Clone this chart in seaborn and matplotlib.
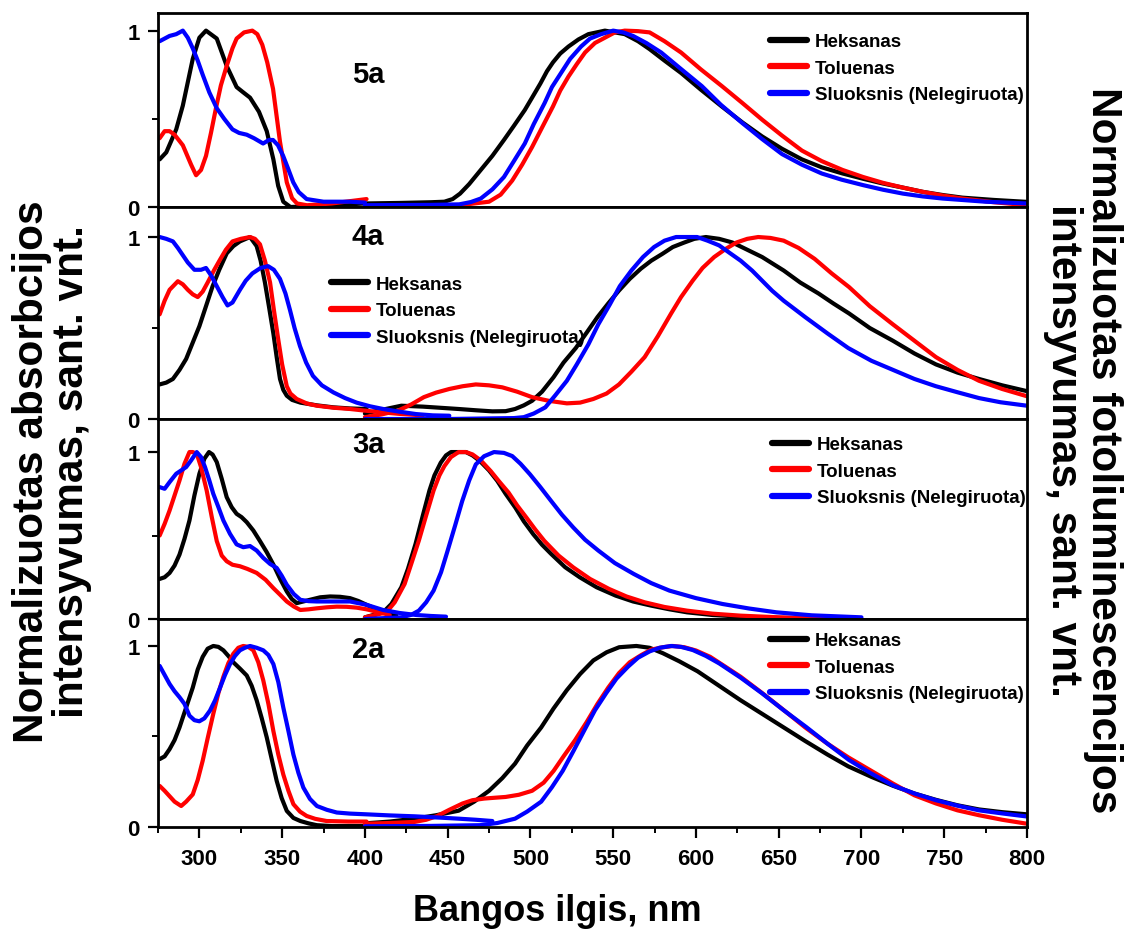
import numpy as np
import pandas as pd
import matplotlib.pyplot as plt
import seaborn as sns
from matplotlib.lines import Line2D
from matplotlib.ticker import MultipleLocator, FixedLocator

# (wavelength nm, normalized intensity)
# ---- 5a ----
abs_5a_hex = [(276, 0.27), (280, 0.31), (286, 0.44), (290, 0.575), (296, 0.84), (300, 0.96), (304, 1.0),
              (310.5, 0.955), (316.5, 0.80), (322.5, 0.68), (326.5, 0.65), (330.6, 0.62), (336, 0.54),
              (340.7, 0.43), (344.7, 0.27), (347.6, 0.12), (350.7, 0.03), (355, 0.0), (370, 0.005),
              (390, 0.015), (400, 0.02)]
pl_5a_hex = [(400, 0.02), (421, 0.023), (440, 0.027), (448, 0.03), (453, 0.045), (457.5, 0.076), (463, 0.13),
             (470, 0.21), (477, 0.29), (484, 0.38), (490, 0.46), (496.6, 0.55), (501, 0.62), (506, 0.70),
             (510, 0.77), (513.6, 0.82), (518, 0.87), (523, 0.91), (529, 0.95), (535, 0.98), (545, 1.0),
             (557, 0.98), (565, 0.94), (572, 0.895), (581, 0.83), (591, 0.76), (603, 0.665), (615.6, 0.57),
             (628, 0.48), (640, 0.40), (652, 0.33), (664, 0.27), (676, 0.225), (688.6, 0.19), (701, 0.16),
             (713, 0.133), (725, 0.11), (737, 0.086), (749, 0.068), (761, 0.053), (780, 0.04), (800, 0.029)]
abs_5a_tol = [(276, 0.39), (279, 0.43), (282, 0.43), (285, 0.41), (290, 0.35), (295, 0.24), (298, 0.18),
              (301, 0.21), (304, 0.29), (307, 0.42), (310, 0.56), (313, 0.69), (316.5, 0.80), (320, 0.90),
              (322.5, 0.955), (327, 0.99), (332, 1.0), (335, 0.98), (338, 0.92), (341, 0.82), (344.5, 0.67),
              (348.7, 0.37), (352.8, 0.14), (356, 0.05), (359, 0.02), (365, 0.01), (380, 0.02), (401, 0.045)]
pl_5a_tol = [(400, 0.0), (421, 0.0), (457, 0.01), (475, 0.03), (482, 0.07), (489, 0.15), (495, 0.24),
             (501, 0.34), (507, 0.45), (513.6, 0.57), (518, 0.66), (523, 0.74), (528, 0.81), (533, 0.876),
             (539, 0.93), (545, 0.96), (551, 0.99), (557, 1.0), (565, 0.997), (572, 0.99), (581, 0.94),
             (591, 0.876), (603, 0.78), (615.6, 0.686), (628, 0.59), (640, 0.495), (652, 0.405), (664, 0.32),
             (676, 0.26), (688.6, 0.21), (701, 0.17), (713, 0.137), (725, 0.11), (737, 0.086), (749, 0.065),
             (761, 0.048), (780, 0.027), (800, 0.01)]
abs_5a_film = [(276, 0.94), (282, 0.97), (286, 0.98), (290, 1.0), (293, 0.96), (296, 0.9), (299, 0.83),
               (302, 0.75), (306, 0.65), (310.5, 0.56), (315, 0.5), (320, 0.44), (324, 0.42), (328.6, 0.41),
               (333, 0.39), (338.5, 0.36), (342, 0.38), (344.5, 0.38), (347.5, 0.35), (350.6, 0.29),
               (353.5, 0.22), (356.7, 0.14), (360, 0.085), (364.8, 0.045), (375, 0.03), (391, 0.03), (400, 0.025)]
pl_5a_film = [(400, 0.01), (440, 0.012), (457, 0.015), (464, 0.028), (470, 0.048), (477, 0.1), (484, 0.17),
              (490, 0.26), (496.6, 0.36), (502, 0.47), (508.6, 0.59), (513, 0.68), (518.5, 0.76), (524, 0.84),
              (530.6, 0.91), (536, 0.955), (542.7, 0.98), (550, 1.0), (556, 0.99), (562, 0.97), (570, 0.93),
              (579, 0.876), (590, 0.79), (603.5, 0.686), (615, 0.58), (628, 0.476), (640, 0.385), (652, 0.30),
              (664, 0.24), (676, 0.19), (688, 0.155), (701, 0.124), (713, 0.098), (725, 0.076), (737, 0.06),
              (749, 0.048), (775, 0.03), (800, 0.02)]

# ---- 4a ----
abs_4a_hex = [(276, 0.19), (280, 0.2), (284, 0.22), (288, 0.27), (292, 0.33), (296, 0.42), (300, 0.51),
              (304, 0.62), (308, 0.73), (312, 0.82), (316.5, 0.91), (320.5, 0.95), (324.5, 0.976), (330.6, 1.0),
              (334.6, 0.95), (337, 0.87), (339.6, 0.75), (342, 0.62), (344.7, 0.47), (346.7, 0.34),
              (348.7, 0.22), (350.7, 0.16), (352.8, 0.128), (356, 0.105), (361, 0.09), (371, 0.075),
              (381, 0.064), (391, 0.058), (401, 0.055)]
pl_4a_hex = [(400, 0.03), (410, 0.05), (422, 0.073), (435, 0.068), (445, 0.062), (456.6, 0.055), (467, 0.048),
             (477, 0.042), (485, 0.043), (490.7, 0.055), (496, 0.075), (501, 0.10), (507, 0.15), (514, 0.23),
             (520, 0.31), (527.4, 0.39), (534, 0.475), (540.5, 0.56), (547, 0.635), (553.5, 0.706), (560, 0.77),
             (566.7, 0.826), (573, 0.87), (579.8, 0.908), (586, 0.945), (593, 0.97), (599, 0.99), (606, 1.0),
             (614, 0.99), (622, 0.97), (631, 0.93), (640, 0.89), (653, 0.816), (663, 0.75), (674, 0.69),
             (683, 0.635), (692.5, 0.58), (705, 0.50), (719, 0.43), (732, 0.36), (745, 0.30), (758, 0.255),
             (771, 0.22), (785, 0.185), (800, 0.153)]
abs_4a_tol = [(276, 0.575), (279, 0.65), (282, 0.71), (287, 0.757), (290, 0.74), (293, 0.71), (296, 0.685),
              (299, 0.67), (302, 0.70), (305, 0.75), (309, 0.82), (312.5, 0.876), (316, 0.93), (320, 0.976),
              (325, 0.99), (330.6, 1.0), (333.6, 0.99), (336.6, 0.96), (339.6, 0.87), (342.7, 0.75), (345, 0.6),
              (347.6, 0.44), (350, 0.3), (352.8, 0.18), (355, 0.14), (358.8, 0.11), (365, 0.085), (371, 0.073),
              (381, 0.062), (391, 0.055), (401, 0.045), (411, 0.036), (421, 0.028), (435, 0.02)]
pl_4a_tol = [(400, 0.01), (410, 0.025), (420, 0.046), (428, 0.08), (435.6, 0.12), (443, 0.145), (451, 0.165),
             (459, 0.18), (467, 0.19), (475, 0.185), (483, 0.174), (492, 0.15), (501, 0.12), (511, 0.1),
             (522, 0.086), (530, 0.09), (538, 0.11), (546, 0.14), (553.5, 0.19), (561, 0.26), (569, 0.34),
             (577, 0.455), (585, 0.58), (591, 0.67), (598, 0.76), (604, 0.83), (611, 0.89), (618, 0.935),
             (624.5, 0.97), (631, 0.99), (637.6, 1.0), (645, 0.995), (653, 0.98), (662, 0.94), (671.7, 0.88),
             (682, 0.80), (692.5, 0.725), (705, 0.62), (719, 0.52), (732, 0.43), (745, 0.34), (758, 0.27),
             (771, 0.21), (785, 0.165), (800, 0.125)]
abs_4a_film = [(276, 1.0), (280, 0.99), (284, 0.976), (287, 0.94), (290, 0.90), (293, 0.86), (297, 0.82),
               (301, 0.82), (304, 0.83), (307, 0.79), (310.5, 0.73), (314, 0.67), (317, 0.624), (320, 0.64),
               (324.5, 0.71), (328, 0.76), (332, 0.80), (337, 0.83), (341.5, 0.84), (345, 0.82), (348.7, 0.77),
               (352, 0.69), (354.7, 0.60), (357.5, 0.50), (360.8, 0.40), (364.5, 0.31), (368.6, 0.237),
               (374, 0.185), (381, 0.146), (388, 0.115), (395, 0.09), (403, 0.07), (411, 0.055), (421, 0.04),
               (431, 0.027), (441, 0.02), (451, 0.018)]
pl_4a_film = [(400, 0.0), (450, 0.0), (490, 0.005), (496, 0.01), (502, 0.03), (509, 0.064), (515, 0.13),
              (522, 0.21), (528, 0.3), (535, 0.41), (541, 0.52), (548, 0.63), (554, 0.73), (561, 0.816),
              (568, 0.89), (574.7, 0.945), (581, 0.98), (588, 1.0), (594, 1.0), (600.7, 1.0), (607, 0.98),
              (614, 0.954), (620, 0.915), (627, 0.87), (634, 0.815), (640, 0.76), (646, 0.705), (653, 0.65),
              (666, 0.56), (679.5, 0.47), (692, 0.39), (706, 0.32), (719, 0.27), (732, 0.22), (745, 0.18),
              (758, 0.147), (771, 0.115), (784, 0.092), (800, 0.073)]

# ---- 3a ----
abs_3a_hex = [(276, 0.24), (279, 0.25), (282, 0.276), (285, 0.32), (288, 0.386), (291, 0.48), (294, 0.59),
              (297, 0.74), (300, 0.87), (303, 0.96), (305.8, 1.0), (308, 0.985), (310.5, 0.94), (313.5, 0.84),
              (316.5, 0.73), (319.5, 0.67), (322.5, 0.63), (325.5, 0.61), (328.6, 0.58), (332.6, 0.53),
              (336.6, 0.467), (340.7, 0.40), (344.7, 0.326), (348.8, 0.24), (352.8, 0.165), (355.8, 0.12),
              (358.8, 0.095), (362.8, 0.105), (366.8, 0.115), (373, 0.13), (379, 0.135), (385, 0.133),
              (391, 0.125), (396, 0.108), (401, 0.085), (406, 0.063), (411, 0.044), (419, 0.024)]
pl_3a_hex = [(400, 0.01), (411, 0.04), (416, 0.09), (422, 0.19), (426, 0.3), (430.6, 0.45), (435, 0.62),
             (439, 0.77), (442, 0.86), (445.8, 0.936), (449, 0.98), (452, 1.0), (456, 1.0), (461, 1.0),
             (465, 0.98), (469.5, 0.946), (475, 0.89), (480, 0.827), (485, 0.75), (490.9, 0.667), (496, 0.585),
             (501.7, 0.508), (507, 0.445), (512.5, 0.39), (521, 0.31), (529.8, 0.25), (540, 0.19),
             (551.5, 0.14), (562, 0.105), (573, 0.08), (584, 0.058), (594.6, 0.04), (610, 0.024),
             (627, 0.014), (660, 0.004), (700, 0.0)]
abs_3a_tol = [(276, 0.50), (279, 0.57), (282, 0.65), (285, 0.74), (288, 0.83), (291, 0.93), (294, 1.0),
              (296, 1.0), (298.4, 0.99), (301, 0.91), (304.4, 0.77), (307.5, 0.61), (310.5, 0.467),
              (313.5, 0.38), (316.5, 0.346), (320, 0.325), (324.5, 0.316), (329, 0.30), (334.6, 0.276),
              (340, 0.235), (344.7, 0.185), (348.8, 0.145), (352.8, 0.105), (357, 0.075), (361, 0.054),
              (366, 0.058), (371, 0.064), (377, 0.07), (383, 0.074), (389, 0.073), (395, 0.068), (401, 0.058),
              (407, 0.044), (415, 0.024)]
pl_3a_tol = [(400, 0.01), (413, 0.04), (418, 0.1), (424, 0.21), (428, 0.33), (432.6, 0.47), (437, 0.62),
             (441.5, 0.77), (445, 0.86), (448, 0.916), (452, 0.97), (456.6, 1.0), (461, 1.0), (465, 0.986),
             (470, 0.95), (476, 0.886), (481, 0.825), (486.8, 0.757), (492, 0.68), (497.6, 0.607), (503, 0.535),
             (508.4, 0.468), (517, 0.38), (525.9, 0.309), (536, 0.24), (547.5, 0.18), (558, 0.135), (569, 0.10),
             (581, 0.072), (594.6, 0.05), (610, 0.032), (627, 0.02), (650, 0.01), (680, 0.004)]
abs_3a_film = [(276, 0.79), (279, 0.78), (282, 0.82), (286, 0.87), (289, 0.89), (292, 0.91), (295, 0.95),
               (298.4, 1.0), (301, 0.97), (303.4, 0.91), (306, 0.83), (308.4, 0.75), (311.5, 0.67),
               (314.5, 0.59), (318.5, 0.51), (322.5, 0.447), (326.5, 0.43), (330.6, 0.437), (334.6, 0.41),
               (338.6, 0.366), (342.7, 0.33), (346.7, 0.306), (349.7, 0.26), (352.8, 0.205), (357, 0.15),
               (361, 0.115), (366, 0.107), (371, 0.105), (381, 0.105), (391, 0.105), (401, 0.085), (411, 0.054),
               (421, 0.036), (431, 0.024), (440, 0.018), (449, 0.014)]
pl_3a_film = [(400, 0.0), (422, 0.01), (428, 0.025), (432.6, 0.05), (437, 0.1), (441.5, 0.17), (446, 0.28),
              (450, 0.41), (454.5, 0.56), (458.8, 0.707), (463, 0.83), (467, 0.926), (472, 0.975), (478, 1.0),
              (484, 0.995), (489, 0.976), (494, 0.93), (499.7, 0.867), (506, 0.79), (512.5, 0.707), (519, 0.625),
              (525.9, 0.548), (533, 0.475), (541, 0.41), (551, 0.335), (562.4, 0.27), (573, 0.215), (584, 0.17),
              (600, 0.125), (616, 0.09), (632, 0.063), (648.6, 0.04), (670, 0.022), (700, 0.01)]

# ---- 2a ----
abs_2a_hex = [(276, 0.375), (279, 0.39), (282, 0.43), (285, 0.48), (288, 0.55), (292, 0.66), (296, 0.77),
              (299, 0.87), (302, 0.94), (305, 0.985), (308.4, 1.0), (311.5, 0.995), (314.5, 0.976),
              (317.5, 0.945), (320.5, 0.91), (324.5, 0.875), (328.6, 0.837), (331.6, 0.78), (334.6, 0.70),
              (337.7, 0.60), (340.7, 0.495), (343.7, 0.375), (346.7, 0.255), (349.7, 0.16), (352.8, 0.089),
              (356.8, 0.05), (361, 0.033), (366, 0.02), (371, 0.01), (380, 0.005), (400, 0.005)]
pl_2a_hex = [(400, 0.02), (415, 0.03), (430, 0.046), (443, 0.065), (456.6, 0.09), (466, 0.14), (475, 0.20),
             (483, 0.27), (490.7, 0.35), (498, 0.45), (506.5, 0.55), (514, 0.655), (522, 0.756), (530, 0.845),
             (538, 0.92), (546, 0.965), (553.6, 0.993), (564, 1.0), (572, 0.99), (580, 0.96), (590, 0.915),
             (601, 0.86), (614, 0.78), (627, 0.70), (640, 0.625), (653, 0.55), (666, 0.475), (679.5, 0.40),
             (692, 0.335), (706, 0.277), (719, 0.228), (732, 0.185), (745, 0.15), (758, 0.12), (771, 0.097),
             (785, 0.082), (800, 0.07)]
abs_2a_tol = [(276, 0.227), (279, 0.2), (282, 0.17), (285, 0.14), (289, 0.116), (292, 0.14), (296, 0.18),
              (299, 0.26), (302, 0.366), (305, 0.49), (308.4, 0.625), (311.5, 0.74), (314.5, 0.83),
              (317.5, 0.905), (320.5, 0.957), (323.5, 0.99), (326.5, 1.0), (329.5, 0.995), (332.6, 0.976),
              (335.6, 0.91), (338.6, 0.81), (341.7, 0.68), (344.7, 0.53), (347.7, 0.40), (350.7, 0.29),
              (353.8, 0.2), (356.8, 0.126), (360.8, 0.085), (364.8, 0.061), (370, 0.045), (376.9, 0.033),
              (390, 0.03), (401, 0.03)]
pl_2a_tol = [(400, 0.018), (415, 0.022), (430, 0.028), (437, 0.04), (443.5, 0.06), (451, 0.095), (459, 0.13),
             (465, 0.148), (472, 0.157), (479, 0.162), (485, 0.166), (493, 0.178), (501, 0.20), (508, 0.245),
             (514, 0.31), (520, 0.39), (527, 0.48), (534, 0.58), (540.5, 0.68), (547, 0.77), (553.5, 0.85),
             (560, 0.91), (567, 0.95), (573, 0.98), (580, 0.993), (586, 1.0), (593, 0.993), (600, 0.975),
             (608.6, 0.94), (617, 0.89), (627, 0.83), (640, 0.74), (653, 0.646), (666, 0.55), (679.5, 0.46),
             (692, 0.385), (706, 0.31), (719, 0.24), (732, 0.175), (745, 0.13), (758, 0.092), (771, 0.065),
             (785, 0.04), (800, 0.018)]
abs_2a_film = [(276, 0.89), (279, 0.84), (282, 0.79), (285, 0.75), (288, 0.717), (291, 0.68), (294, 0.615),
               (297, 0.59), (300, 0.584), (303, 0.6), (306.4, 0.643), (309.5, 0.7), (312.5, 0.77), (315.5, 0.84),
               (318.5, 0.90), (321.5, 0.945), (324.5, 0.976), (327.5, 0.99), (330.6, 1.0), (334.6, 0.99),
               (338.6, 0.976), (341.7, 0.95), (344.7, 0.90), (347.7, 0.80), (350.7, 0.66), (353.8, 0.53),
               (356.8, 0.40), (359.8, 0.30), (362.8, 0.218), (366.8, 0.155), (371, 0.116), (377, 0.095),
               (383, 0.08), (391, 0.074), (401, 0.07), (415, 0.064), (430, 0.059), (445, 0.052), (456.6, 0.046),
               (467, 0.04), (477, 0.033)]
pl_2a_film = [(400, 0.004), (440, 0.006), (469.5, 0.01), (480, 0.022), (490.7, 0.046), (498, 0.085),
              (506.5, 0.14), (513, 0.22), (519.5, 0.31), (526, 0.42), (532.6, 0.535), (539, 0.645),
              (545.8, 0.74), (552, 0.82), (559, 0.886), (565, 0.935), (572, 0.97), (578, 0.99), (585, 1.0),
              (591, 0.995), (598, 0.978), (606, 0.945), (614, 0.904), (627, 0.825), (640, 0.738), (653, 0.645),
              (666.5, 0.553), (679.5, 0.46), (692.5, 0.37), (706, 0.295), (719, 0.23), (732, 0.185),
              (745, 0.148), (758, 0.118), (771, 0.092), (785, 0.075), (800, 0.058)]

solvents = ['Heksanas', 'Toluenas', 'Sluoksnis (Nelegiruota)']
colors = ['#000000', '#ff0000', '#0000ff']
panel_names = ['5a', '4a', '3a', '2a']
panel_curves = {
    '5a': [abs_5a_hex, pl_5a_hex, abs_5a_tol, pl_5a_tol, abs_5a_film, pl_5a_film],
    '4a': [abs_4a_hex, pl_4a_hex, abs_4a_tol, pl_4a_tol, abs_4a_film, pl_4a_film],
    '3a': [abs_3a_hex, pl_3a_hex, abs_3a_tol, pl_3a_tol, abs_3a_film, pl_3a_film],
    '2a': [abs_2a_hex, pl_2a_hex, abs_2a_tol, pl_2a_tol, abs_2a_film, pl_2a_film],
}

sns.set_style("ticks")
plt.rcParams['font.family'] = ['Liberation Sans', 'DejaVu Sans']
plt.rcParams['font.weight'] = 'bold'
for key in ['text.color', 'axes.labelcolor', 'xtick.color', 'ytick.color', 'axes.edgecolor']:
    plt.rcParams[key] = 'black'

fig = plt.figure(figsize=(11.27, 9.37), dpi=100)
W, H = 1127, 937
left_px, right_px = 158, 1027
panel_px = [(14, 208), (208, 420), (420, 620), (620, 828)]
ytops = [1.10, 1.165, 1.198, 1.149]
label_pos = [(402, 0.756), (402, 1.005), (402, 1.048), (402, 0.983)]
legend_anchor = [(0.704, 0.895), (0.199, 0.676), (0.706, 0.915), (0.704, 0.936)]

for i, name in enumerate(panel_names):
    top, bot = panel_px[i]
    ax = fig.add_axes([left_px / W, 1 - bot / H, (right_px - left_px) / W, (bot - top) / H])

    rows = []
    for k, pairs in enumerate(panel_curves[name]):
        for nm, v in pairs:
            rows.append({'nm': nm, 'val': v, 'solvent': solvents[k // 2], 'curve': k})
    df = pd.DataFrame(rows)
    sns.lineplot(data=df, x='nm', y='val', hue='solvent', hue_order=solvents, palette=colors,
                 units='curve', estimator=None, sort=False, lw=3.0, legend=False, ax=ax)

    ax.set_xlim(275, 800)
    ax.set_ylim(0, ytops[i])
    ax.set_xlabel('')
    ax.set_ylabel('')
    ax.yaxis.set_major_locator(FixedLocator([0, 1]))
    ax.yaxis.set_minor_locator(FixedLocator([0.5]))
    ax.tick_params(axis='y', which='major', direction='out', length=7, width=1.6, labelsize=16, pad=6)
    ax.tick_params(axis='y', which='minor', direction='out', length=4, width=1.4)
    for lab in ax.get_yticklabels():
        lab.set_fontweight('bold')
    for sp in ax.spines.values():
        sp.set_linewidth(2.0)
        sp.set_visible(True)

    ax.text(label_pos[i][0], label_pos[i][1], name, ha='center', va='center',
            fontsize=21, fontweight='bold')

    handles = [Line2D([], [], color=c, lw=4.5) for c in colors]
    ax.legend(handles, solvents, loc='upper left', bbox_to_anchor=legend_anchor[i],
              frameon=False, borderpad=0, borderaxespad=0, handlelength=2.0,
              handletextpad=0.4, labelspacing=0.5, prop={'weight': 'bold', 'size': 13.5})

    if i < 3:
        ax.tick_params(axis='x', which='both', bottom=False, labelbottom=False)
    else:
        ax.xaxis.set_minor_locator(MultipleLocator(25))
        ax.tick_params(axis='x', which='major', direction='out', length=8, width=1.6, pad=7)
        ax.tick_params(axis='x', which='minor', direction='out', length=4, width=1.4)
        ax.set_xticks(np.arange(300, 801, 50))
        ax.set_xticklabels([str(t) for t in range(300, 801, 50)], fontsize=16, fontweight='bold')

fig.text(557 / W, 1 - 912 / H, 'Bangos ilgis, nm', ha='center', va='center', fontsize=26, fontweight='bold')
fig.text(52 / W, 1 - 472 / H, 'Normalizuotas absorbcijos\nintensyvumas, sant. vnt.', rotation=90,
         ha='center', va='center', fontsize=30.5, fontweight='bold', multialignment='center', linespacing=1.02)
fig.text(1083 / W, 1 - 450 / H, 'Normalizuotas fotoliuminescencijos\nintensyvumas, sant. vnt.', rotation=270,
         ha='center', va='center', fontsize=30.5, fontweight='bold', multialignment='center', linespacing=1.02)

fig.savefig('out.png', dpi=100)
